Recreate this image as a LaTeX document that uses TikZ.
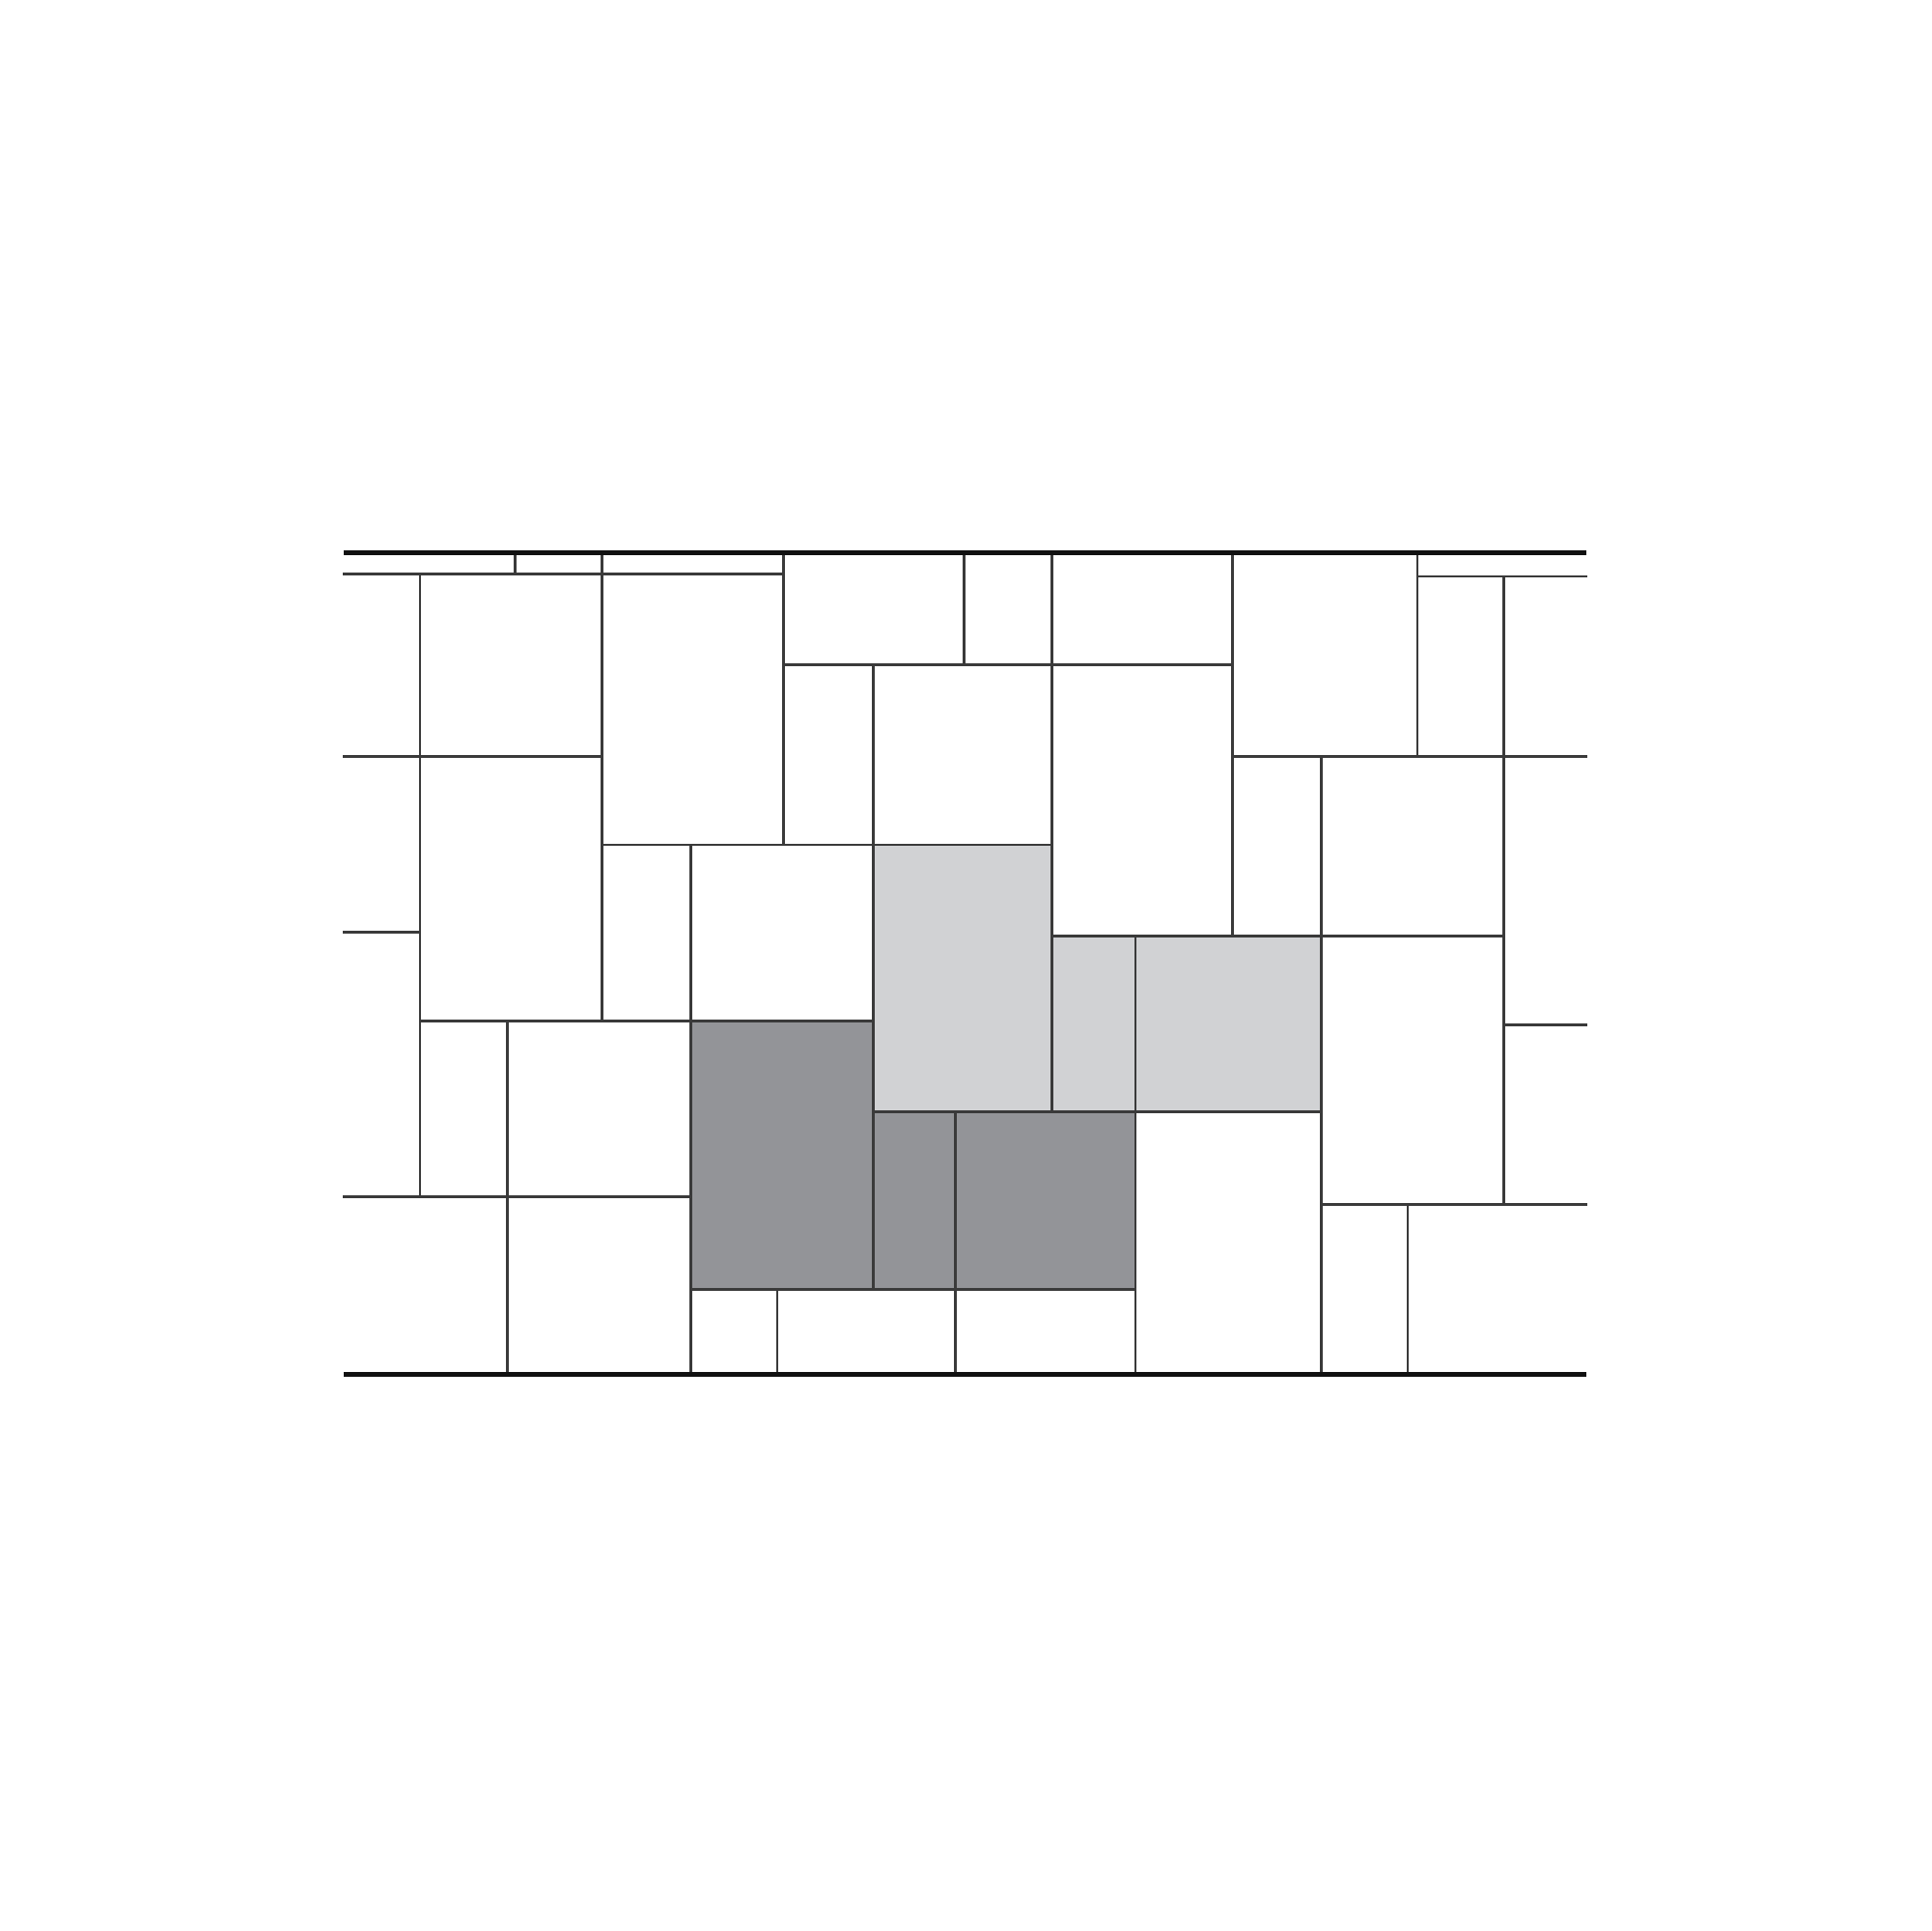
\documentclass[tikz,border=0pt]{standalone}
\definecolor{lightstone}{HTML}{D1D2D4}
\definecolor{darkstone}{HTML}{939498}
\definecolor{joint}{HTML}{3A3A3A}
\definecolor{edgeline}{HTML}{111111}
\tikzset{
  jointline/.style={draw=joint, line width=2.1pt, line cap=rect},
  borderline/.style={draw=edgeline, line width=4pt},
  lightfill/.style={fill=lightstone},
  darkfill/.style={fill=darkstone}
}
\begin{document}
\begin{tikzpicture}[x=1pt,y=-1pt]
\useasboundingbox (0,0) rectangle (1568,1568);
\fill[white] (0,0) rectangle (1568,1568);
% shaded stones
\fill[lightfill] (709,686) rectangle (854,903);
\fill[lightfill] (854,760) rectangle (1073,903);
\fill[darkfill] (561,829) rectangle (709,1047);
\fill[darkfill] (709,903) rectangle (922,1047);
% horizontal joints
\draw[jointline] (279,466) -- (636,466);
\draw[jointline] (1151,468) -- (1288,468);
\draw[jointline] (636,540) -- (1001,540);
\draw[jointline] (279,614) -- (489,614);
\draw[jointline] (1001,614) -- (1288,614);
\draw[jointline] (489,686) -- (854,686);
\draw[jointline] (279,757) -- (341,757);
\draw[jointline] (854,760) -- (1221,760);
\draw[jointline] (341,829) -- (709,829);
\draw[jointline] (1221,832) -- (1288,832);
\draw[jointline] (709,903) -- (1073,903);
\draw[jointline] (279,972) -- (561,972);
\draw[jointline] (1073,978) -- (1288,978);
\draw[jointline] (561,1047) -- (922,1047);
% vertical joints
\draw[jointline] (418,449) -- (418,466);
\draw[jointline] (341,466) -- (341,972);
\draw[jointline] (489,449) -- (489,829);
\draw[jointline] (636,449) -- (636,686);
\draw[jointline] (783,449) -- (783,540);
\draw[jointline] (709,540) -- (709,1047);
\draw[jointline] (854,449) -- (854,903);
\draw[jointline] (1001,449) -- (1001,760);
\draw[jointline] (1151,449) -- (1151,614);
\draw[jointline] (1221,468) -- (1221,978);
\draw[jointline] (1073,614) -- (1073,1116);
\draw[jointline] (922,760) -- (922,1116);
\draw[jointline] (776,903) -- (776,1116);
\draw[jointline] (561,686) -- (561,1116);
\draw[jointline] (412,829) -- (412,1116);
\draw[jointline] (631,1047) -- (631,1116);
\draw[jointline] (1143,978) -- (1143,1116);
% borders
\draw[borderline] (279,449) -- (1288,449);
\draw[borderline] (279,1116) -- (1288,1116);
\end{tikzpicture}
\end{document}
